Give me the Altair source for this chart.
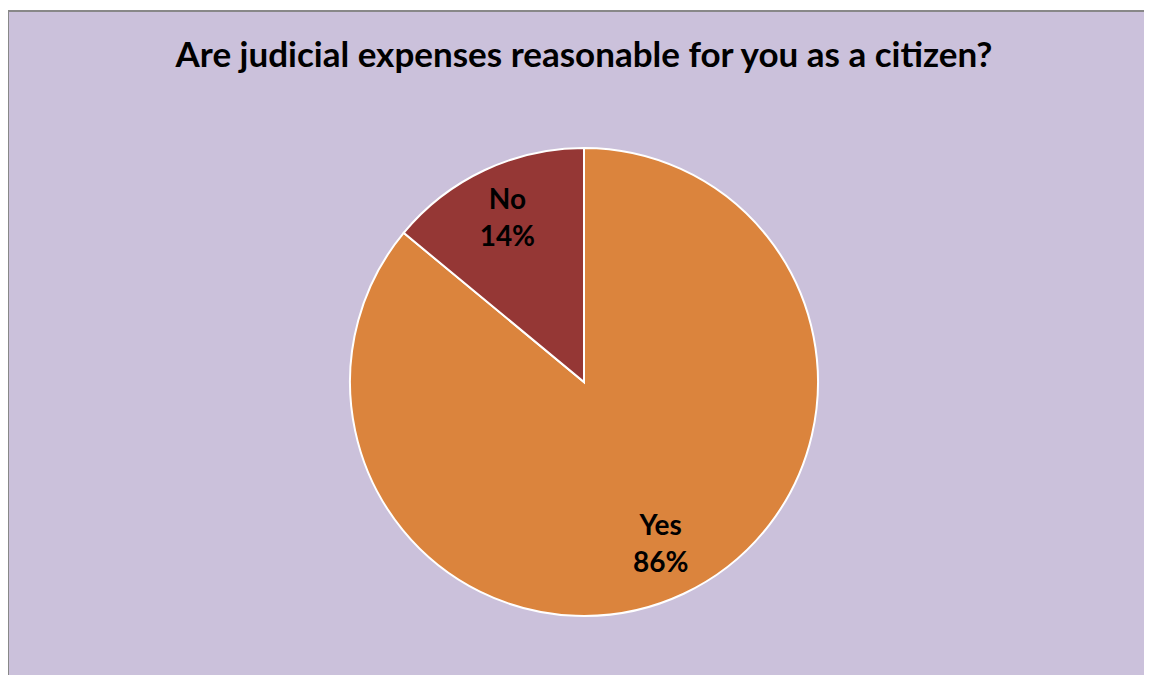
import altair as alt
import pandas as pd

categories = ["Yes", "No"]
values = [86, 14]
colors = ["#DB843D", "#953735"]
title_text = "Are judicial expenses reasonable for you as a citizen?"

df = pd.DataFrame({
    "answer": categories,
    "value": values,
    "idx": list(range(len(categories))),
})
df["label"] = [f"{c}\n{v}%" for c, v in zip(categories, values)]

W, H = 1136, 664
CX, CY = 576, 371

base = alt.Chart(df).encode(
    theta=alt.Theta("value:Q", stack=True),
    order=alt.Order("idx:Q", sort="ascending"),
)

pie = base.mark_arc(radius=234, stroke="white", strokeWidth=2).encode(
    color=alt.Color("answer:N", scale=alt.Scale(domain=categories, range=colors), legend=None),
    x=alt.value(CX), y=alt.value(CY),
)

labels = base.mark_text(
    radius=180, dy=-18, font="Lato", fontWeight="bold", fontSize=28,
    lineBreak="\n", lineHeight=37, color="black", baseline="middle", align="center",
).encode(
    text="label:N",
    x=alt.value(CX), y=alt.value(CY),
)

title = alt.Chart(pd.DataFrame({"t": [title_text]})).mark_text(
    font="Lato", fontWeight="bold", fontSize=35, color="black",
    align="center", baseline="middle",
).encode(text="t:N", x=alt.value(CX), y=alt.value(45))

left_border = alt.Chart(pd.DataFrame({"a": [0]})).mark_rule(
    color="#888888", strokeWidth=2
).encode(x=alt.value(0), y=alt.value(0), y2=alt.value(H))

top_border = alt.Chart(pd.DataFrame({"a": [0]})).mark_rule(
    color="#888888", strokeWidth=2
).encode(x=alt.value(0), x2=alt.value(W), y=alt.value(0))

chart = alt.layer(pie, labels, title, left_border, top_border).properties(
    width=W, height=H,
    padding={"top": 3, "left": 0, "right": 0, "bottom": 0},
    autosize=alt.AutoSizeParams(type="none"),
    background="white",
).configure_view(fill="#CBC1DB", stroke="transparent", strokeWidth=0)

chart.save("out.html", embed_options={"renderer": "svg", "actions": False})
